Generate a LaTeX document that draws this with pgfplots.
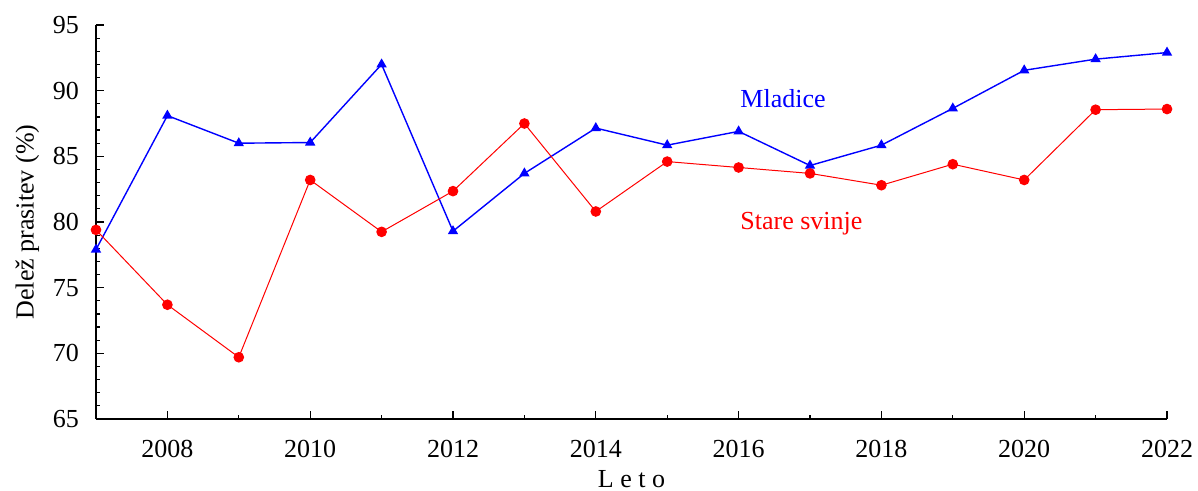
\documentclass[border=0pt]{standalone}
\usepackage{pgfplots}
\pgfplotsset{compat=1.18}
\usepackage{fontspec}
\setmainfont{Liberation Serif}

\begin{document}
\begin{tikzpicture}
\begin{axis}[
    scale only axis,
    width=535.5pt, height=197pt,
    xmin=2007, xmax=2022, ymin=65, ymax=95,
    axis lines=left,
    axis line style={-, line width=0.8pt},
    xtick={2008,2010,...,2022},
    minor xtick={2009,2011,...,2021},
    ytick={65,70,...,95},
    minor ytick={66,67,68,69,71,72,73,74,76,77,78,79,81,82,83,84,86,87,88,89,91,92,93,94},
    tick align=inside,
    major tick length=4pt, minor tick length=2pt,
    tick style={black, line width=0.6pt},
    /pgf/number format/assume math mode=true,
    xticklabel style={/pgf/number format/1000 sep={}, yshift=-7pt},
    yticklabel style={xshift=-5pt},
    ticklabel style={font=\fontsize{13}{15}\selectfont},
    label style={font=\fontsize{13}{15}\selectfont},
    xlabel={L e t o},
    ylabel={Delež prasitev (\%)},
    xlabel style={yshift=0.5pt},
    ylabel style={yshift=0pt},
    clip=false,
]
% Mladice
\addplot[blue, line width=0.7pt, mark=triangle*, mark size=2.3pt, mark options={solid}] coordinates {
  (2007,77.9) (2008,88.1) (2009,86.0) (2010,86.05) (2011,92.0) (2012,79.3)
  (2013,83.7) (2014,87.15) (2015,85.85) (2016,86.9) (2017,84.3) (2018,85.85)
  (2019,88.65) (2020,91.55) (2021,92.4) (2022,92.9)
};
% Stare svinje
\addplot[red, line width=0.5pt, mark=*, mark size=2.4pt, mark options={solid}] coordinates {
  (2007,79.4) (2008,73.7) (2009,69.7) (2010,83.2) (2011,79.25) (2012,82.35)
  (2013,87.5) (2014,80.8) (2015,84.6) (2016,84.15) (2017,83.7) (2018,82.8)
  (2019,84.4) (2020,83.2) (2021,88.55) (2022,88.6)
};
\node[anchor=west, blue, font=\fontsize{13}{15}\selectfont, inner sep=0pt] at (axis cs:2016.02,89.4) {Mladice};
\node[anchor=west, red, font=\fontsize{13}{15}\selectfont, inner sep=0pt] at (axis cs:2016.02,79.85) {Stare svinje};
\end{axis}
\pgfresetboundingbox
\path (-48pt,-36pt) rectangle (551pt,209.5pt);
\end{tikzpicture}
\end{document}
